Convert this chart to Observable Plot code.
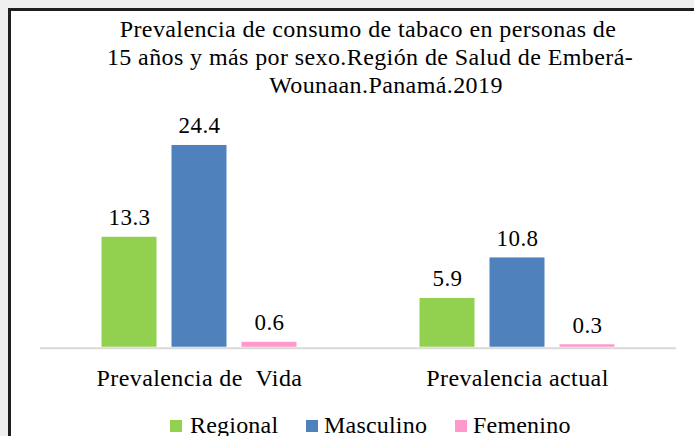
<!DOCTYPE html>
<html>
<head>
<meta charset="utf-8">
<script src="https://cdn.jsdelivr.net/npm/d3@7"></script>
<script src="https://cdn.jsdelivr.net/npm/@observablehq/plot@0.6"></script>
<style>
  html, body { margin: 0; padding: 0; width: 694px; height: 436px; overflow: hidden; background: #efefef; }
  body { position: relative; font-family: "Liberation Serif", serif; color: #000; }
  #frame { position: absolute; left: 8px; top: 8px; width: 800px; height: 600px; border: 3px solid #1f1f1f; background: #fff; }
  .tline { position: absolute; width: 700px; text-align: center; font-size: 24px; line-height: 28px; letter-spacing: 0.4px; white-space: pre; }
  #chart { position: absolute; left: 11px; top: 100px; }
  .lg { position: absolute; font-size: 24px; line-height: 28px; letter-spacing: 0.2px; white-space: pre; }
  .sw { position: absolute; width: 12px; height: 12px; }
</style>
</head>
<body>
<div id="frame"></div>
<div id="title"></div>
<div id="chart"></div>
<div id="legend"></div>
<script>
const titleLines = [
  "Prevalencia de consumo de tabaco en personas de",
  "15 años y más por sexo.Región de Salud de Emberá-",
  "Wounaan.Panamá.2019"
];
const categories = ["Prevalencia de \u00a0Vida", "Prevalencia actual"];
const series = ["Regional", "Masculino", "Femenino"];
const regional = [13.3, 5.9];
const masculino = [24.4, 10.8];
const femenino = [0.6, 0.3];
const colors = ["#92d050", "#4f81bd", "#ff99cc"];

// title
const titleCenters = [368, 370, 386];
const titleBaselines = [36.7, 65, 93];
const tdiv = document.getElementById("title");
titleLines.forEach((t, i) => {
  const d = document.createElement("div");
  d.className = "tline";
  d.textContent = t;
  d.style.left = (titleCenters[i] - 350) + "px";
  d.style.top = (titleBaselines[i] - 22.1) + "px";
  tdiv.appendChild(d);
});

const valuesBySeries = [regional, masculino, femenino];
const data = [];
categories.forEach((c, ci) => {
  series.forEach((s, si) => {
    data.push({category: c, series: s, value: valuesBySeries[si][ci]});
  });
});

const chart = Plot.plot({
  width: 683,
  height: 300,
  marginLeft: 28.5,
  marginRight: 18.5,
  marginTop: 40,
  marginBottom: 53.25,
  style: {fontFamily: "Liberation Serif", fontSize: "24px", letterSpacing: "0.4px", background: "transparent", overflow: "visible", color: "#000"},
  fx: {domain: categories, padding: 0, axis: "bottom", label: null, tickSize: 0, tickPadding: 22.2, fontSize: 24},
  x: {domain: series, paddingInner: 0.213, paddingOuter: 0.862, axis: null},
  y: {domain: [0, 25], axis: null},
  color: {domain: series, range: colors},
  marks: [
    Plot.barY(data, {fx: "category", x: "series", y: "value", fill: "series"}),
    Plot.ruleY([0], {stroke: "#d9d9d9", strokeWidth: 2, dy: 1}),
    Plot.text(data, {fx: "category", x: "series", y: "value", text: d => d.value.toFixed(1), lineAnchor: "bottom", dy: -12, fontSize: 23, fill: "#000"})
  ]
});
document.getElementById("chart").appendChild(chart);

// legend
const lg = document.getElementById("legend");
const swX = [170, 306, 455];
const txX = [190, 324, 473];
series.forEach((s, i) => {
  const sw = document.createElement("div");
  sw.className = "sw";
  sw.style.left = swX[i] + "px";
  sw.style.top = "420px";
  sw.style.background = colors[i];
  lg.appendChild(sw);
  const t = document.createElement("div");
  t.className = "lg";
  t.textContent = s;
  t.style.left = txX[i] + "px";
  t.style.top = (433 - 22.1) + "px";
  lg.appendChild(t);
});
</script>
</body>
</html>
